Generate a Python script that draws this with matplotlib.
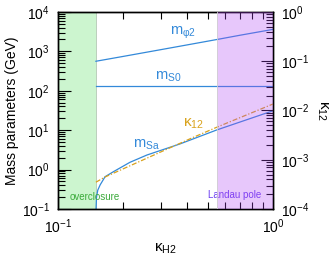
import numpy as np
import matplotlib
matplotlib.use('Agg')
import matplotlib.pyplot as plt

plt.rcParams['font.family'] = ['Liberation Sans', 'DejaVu Sans']
plt.rcParams['mathtext.fontset'] = 'custom'
plt.rcParams['mathtext.rm'] = 'Liberation Sans'
plt.rcParams['mathtext.it'] = 'Liberation Sans'
plt.rcParams['font.size'] = 10

# values
kappa = [0.15, 0.2, 0.3, 0.4, 0.55, 0.7, 1.0]
m_phi2 = [560, 740, 1100, 1460, 2000, 2550, 3600]
m_s0 = [135, 135, 135, 135, 135, 135, 135]

kappa_k12 = [0.15, 0.1655, 0.42, 0.55, 1.0]
kappa12 = [3.5e-4, 4.47e-4, 2.77e-3, 4.6e-3, 1.35e-2]

kappa_sa = [0.1502, 0.151, 0.153, 0.157, 0.1655, 0.181, 0.216, 0.259, 0.369, 0.547, 1.0]
m_sa = [0.1, 0.2, 0.3, 0.41, 0.66, 0.885, 1.53, 2.34, 4.47, 10.1, 31]

overclosure = (0.1, 0.15)
landau = (0.55, 1.0)

blue = '#3389d9'
gold = '#d9a21c'

fig = plt.figure(figsize=(3.3, 2.59), dpi=100)
ax = fig.add_axes([0.176, 0.193, 0.651, 0.761])
ax2 = ax.twinx()

ax.axvspan(*overclosure, facecolor='#ccf5cf', edgecolor='#b5c8b5', lw=0.6, zorder=0)
ax.plot(kappa, m_phi2, color=blue, lw=0.9, zorder=2)
ax.plot(kappa, m_s0, color=blue, lw=0.9, zorder=2)
ax.plot(kappa_sa, m_sa, color=blue, lw=0.9, zorder=2)
ax2.plot(kappa_k12, kappa12, color=gold, lw=0.9, ls=(0, (4, 1.5, 1, 1.5)), zorder=2)
ax2.axvspan(*landau, facecolor='#b248f5', alpha=0.3, edgecolor='none', zorder=3)
ax2.axvline(landau[0], color='#d0d0d0', lw=0.6, zorder=3)

ax.set_xscale('log')
ax.set_yscale('log')
ax2.set_yscale('log')
ax.set_xlim(0.1, 1.0)
ax.set_ylim(0.1, 1e4)
ax2.set_ylim(1e-4, 1.0)

ax.tick_params(which='both', direction='in', top=True, right=False, pad=6)
ax.tick_params(which='major', length=9, width=0.8)
ax.tick_params(which='minor', length=5, width=0.8)
ax2.tick_params(which='both', direction='in', pad=6)
ax2.tick_params(which='major', length=9, width=0.8)
ax2.tick_params(which='minor', length=5, width=0.8)
ax.yaxis.set_minor_formatter(plt.NullFormatter())
ax.xaxis.set_minor_formatter(plt.NullFormatter())
ax2.yaxis.set_minor_formatter(plt.NullFormatter())
ax.xaxis.set_minor_locator(matplotlib.ticker.LogLocator(subs=np.arange(2, 10)))
ax.yaxis.set_minor_locator(matplotlib.ticker.LogLocator(subs=np.arange(2, 10), numticks=20))
ax2.yaxis.set_minor_locator(matplotlib.ticker.LogLocator(subs=np.arange(2, 10), numticks=20))
ax.yaxis.set_major_locator(matplotlib.ticker.LogLocator(numticks=20))
ax2.yaxis.set_major_locator(matplotlib.ticker.LogLocator(numticks=20))

ax.set_xlabel(r'$\mathrm{κ_{H2}}$', fontsize=11, labelpad=4)
ax.set_ylabel('Mass parameters (GeV)', fontsize=10, labelpad=2)
ax2.set_ylabel(r'$\mathrm{κ_{12}}$', fontsize=11, rotation=270, labelpad=14)

ax.text(0.332, 2900, r'$\mathrm{m_{φ2}}$', color=blue, fontsize=10.5, va='center')
ax.text(0.283, 224, r'$\mathrm{m_{S0}}$', color=blue, fontsize=10.5, va='center')
ax.text(0.223, 4.2, r'$\mathrm{m_{Sa}}$', color=blue, fontsize=10.5, va='center')
ax.text(0.381, 14.4, r'$\mathrm{κ_{12}}$', color=gold, fontsize=11, va='center')
ax.text(0.1137, 0.2, 'overclosure', color='#3aaa3a', fontsize=7, va='center')
ax.text(0.5, 0.226, 'Landau pole', color='#6a3cf0', fontsize=7, va='center')

for a in (ax, ax2):
    for s in a.spines.values():
        s.set_linewidth(1.0)

fig.savefig('out.png', dpi=100)
